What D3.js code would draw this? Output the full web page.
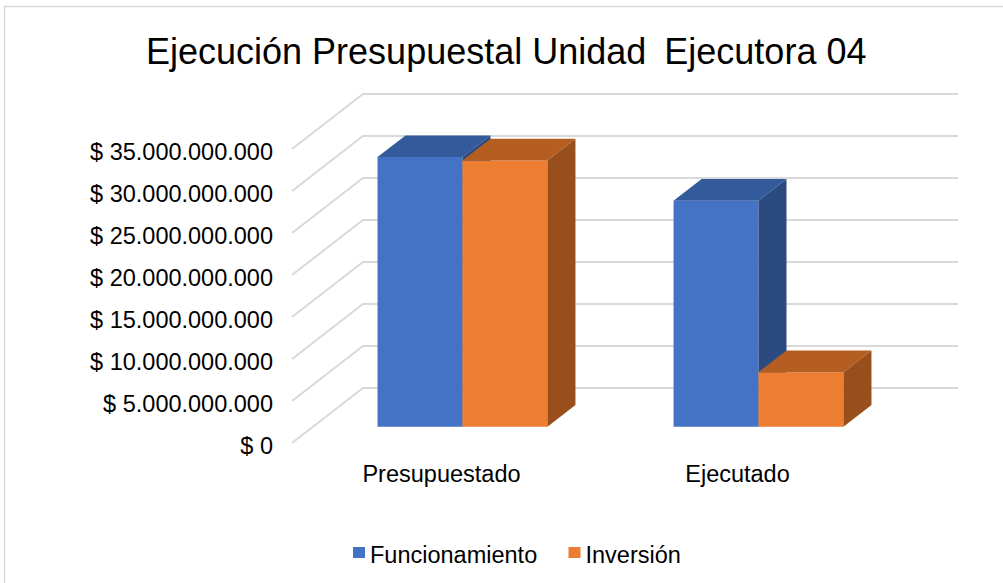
<!DOCTYPE html>
<html>
<head>
<meta charset="utf-8">
<script src="https://cdn.jsdelivr.net/npm/d3@7"></script>
<style>
  body { margin: 0; background: #fff; }
  text { font-family: "Liberation Sans", Arial, sans-serif; fill: #000; }
</style>
</head>
<body>
<div id="viz"></div>
<script>
// chart data
const categories = ["Presupuestado", "Ejecutado"];
const seriesNames = ["Funcionamiento", "Inversión"];
const funcionamiento = [32.1e9, 26.9e9];
const inversion = [31.7e9, 6.5e9];
const tickValues = [0, 5e9, 10e9, 15e9, 20e9, 25e9, 30e9, 35e9];
const tickLabels = ["$ 0", "$ 5.000.000.000", "$ 10.000.000.000", "$ 15.000.000.000",
    "$ 20.000.000.000", "$ 25.000.000.000", "$ 30.000.000.000", "$ 35.000.000.000"];

const width = 1003;
const height = 583;

const colors = {
    front: ["#4472C4", "#ED7D31"],
    top: ["#335A9B", "#B55E22"],
    side: ["#2B4A80", "#994F1C"]
};

const svg = d3.select("#viz").append("svg")
    .attr("width", width)
    .attr("height", height);

// chart frame
svg.append("rect")
    .attr("x", 4.5).attr("y", 6.5)
    .attr("width", 1010).attr("height", 600)
    .attr("fill", "none")
    .attr("stroke", "#d9d9d9")
    .attr("stroke-width", 1.5);

// oblique 3D: depth z shifts points right and up
const k = 0.775;
const depth = 71;
const barFront = 21, barBack = 49;
const proj = (x, y, z) => [x + z, y - k * z];

// front-plane scales
const y = d3.scaleLinear().domain([0, 35e9]).range([443, 149]);
const x0 = d3.scaleBand().domain(categories).range([292, 887])
    .paddingInner(0.426).paddingOuter(0.218);
const x1 = d3.scaleBand().domain(seriesNames).range([0, x0.bandwidth()]);

// back wall gridlines and left wall diagonals
const grid = svg.append("g")
    .attr("stroke", "#d9d9d9")
    .attr("stroke-width", 2)
    .attr("fill", "none");

tickValues.forEach(v => {
    const a = proj(292, y(v), 0);
    const b = proj(292, y(v), depth);
    const c = proj(887, y(v), depth);
    grid.append("path").attr("d", `M${a}L${b}L${c}`);
});

// y axis labels
svg.append("g").selectAll("text")
    .data(tickValues)
    .enter()
    .append("text")
    .attr("x", 273)
    .attr("y", d => y(d) + 3)
    .attr("dy", "0.35em")
    .attr("text-anchor", "end")
    .style("font-size", "23.5px")
    .text((d, i) => tickLabels[i]);

// bars, left to right so later faces overlap earlier side faces
const bars = [];
categories.forEach((cat, ci) => {
    [funcionamiento, inversion].forEach((vals, si) => {
        bars.push({cat, series: seriesNames[si], si, value: vals[ci]});
    });
});

const g = svg.append("g");
bars.forEach(d => {
    const xl = x0(d.cat) + x1(d.series);
    const xr = xl + x1.bandwidth();
    const yt = y(d.value), yb = y(0);
    const P = (xx, yy, zz) => proj(xx, yy, zz).join(",");
    // front
    g.append("path")
        .attr("d", `M${P(xl, yb, barFront)}L${P(xr, yb, barFront)}L${P(xr, yt, barFront)}L${P(xl, yt, barFront)}Z`)
        .attr("fill", colors.front[d.si]);
    // top
    g.append("path")
        .attr("d", `M${P(xl, yt, barFront)}L${P(xr, yt, barFront)}L${P(xr, yt, barBack)}L${P(xl, yt, barBack)}Z`)
        .attr("fill", colors.top[d.si]);
    // side
    g.append("path")
        .attr("d", `M${P(xr, yb, barFront)}L${P(xr, yb, barBack)}L${P(xr, yt, barBack)}L${P(xr, yt, barFront)}Z`)
        .attr("fill", colors.side[d.si]);
});

// category labels
svg.append("g").selectAll("text")
    .data(categories)
    .enter()
    .append("text")
    .attr("x", d => x0(d) + x0.bandwidth() / 2)
    .attr("y", 481.5)
    .attr("text-anchor", "middle")
    .style("font-size", "23.5px")
    .text(d => d);

// title; extra gap before "Ejecutora" as in the original
const title = svg.append("text")
    .attr("x", 146)
    .attr("y", 63.5)
    .style("font-size", "36px");
title.append("tspan").text("Ejecución Presupuestal Unidad");
title.append("tspan").attr("dx", 18).text("Ejecutora 04");

// legend
const legendX = [353, 568.5];
const legend = svg.append("g").selectAll("g")
    .data(seriesNames)
    .enter()
    .append("g")
    .attr("transform", (d, i) => `translate(${legendX[i]},0)`);

legend.append("rect")
    .attr("x", 0).attr("y", 547)
    .attr("width", 12).attr("height", 11)
    .attr("fill", (d, i) => colors.front[i]);

legend.append("text")
    .attr("x", 17)
    .attr("y", 563.3)
    .style("font-size", "23.5px")
    .text(d => d);
</script>
</body>
</html>
